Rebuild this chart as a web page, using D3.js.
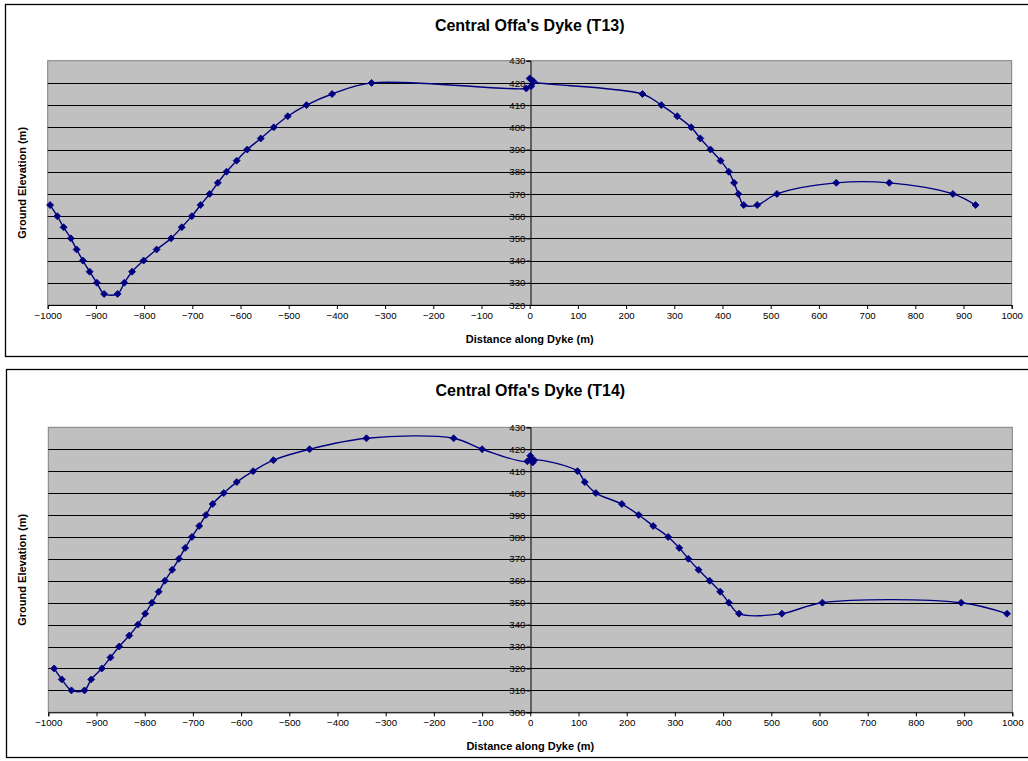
<!DOCTYPE html>
<html>
<head>
<meta charset="utf-8">
<script src="https://cdn.jsdelivr.net/npm/d3@7"></script>
<style>
  html, body { margin: 0; padding: 0; background: #fff; }
  svg { display: block; font-family: "Liberation Sans", Arial, sans-serif; }
</style>
</head>
<body>
<svg id="chart" width="1028" height="761"></svg>
<script>
// ---------- data ----------
const t13Distance = [-995, -980, -967, -952, -940, -927, -913, -898, -883, -855, -841, -825, -801, -774, -744, -722, -701, -683, -664, -647, -629, -608, -586, -558, -531, -502, -463, -410, -328, -7, 3, 0, 6, 8, 234, 273, 306, 335, 354, 375, 396, 413, 424, 433, 444, 472, 513, 636, 746, 878, 925];
const t13Elevation = [365, 360, 355, 350, 345, 340, 335, 330, 325, 325, 330, 335, 340, 345, 350, 355, 360, 365, 370, 375, 380, 385, 390, 395, 400, 405, 410, 415, 420, 417.5, 418.5, 422, 421, 420.5, 415, 410, 405, 400, 395, 390, 385, 380, 375, 370, 365, 365, 370, 375, 375, 370, 365];

const t14Distance = [-988, -972, -952, -925, -911, -889, -871, -853, -832, -814, -799, -785, -771, -758, -743, -729, -716, -702, -687, -673, -659, -636, -609, -575, -533, -458, -340, -159, -100, -6, 0, 3, 5, 8, 98, 113, 136, 190, 225, 255, 286, 309, 328, 349, 372, 394, 412, 433, 522, 606, 894, 989];
const t14Elevation = [320, 315, 310, 310, 315, 320, 325, 330, 335, 340, 345, 350, 355, 360, 365, 370, 375, 380, 385, 390, 395, 400, 405, 410, 415, 420, 425, 425, 420, 414.5, 417, 415.5, 414, 415, 410, 405, 400, 395, 390, 385, 380, 375, 370, 365, 360, 355, 350, 345, 345, 350, 350, 345];

const xTicks = d3.range(-1000, 1001, 100);
const t13YTicks = d3.range(320, 431, 10);
const t14YTicks = d3.range(300, 431, 10);

const titles = ["Central Offa's Dyke (T13)", "Central Offa's Dyke (T14)"];
const xTitle = "Distance along Dyke (m)";
const yTitle = "Ground Elevation (m)";

// ---------- drawing ----------
const svg = d3.select("#chart");
const navy = "#000080";
const FONT = '"Liberation Sans", Arial, sans-serif';

function drawChart(cfg) {
  const g = svg.append("g");
  g.append("rect")
    .attr("x", cfg.frame[0]).attr("y", cfg.frame[1])
    .attr("width", cfg.frame[2]).attr("height", cfg.frame[3])
    .attr("fill", "#fff").attr("stroke", "#000").attr("stroke-width", 1.3);

  const x = d3.scaleLinear().domain([-1000, 1000]).range([cfg.left, cfg.right]);
  const y = d3.scaleLinear().domain(cfg.yDomain).range([cfg.bottom, cfg.top]);

  g.append("rect")
    .attr("x", cfg.left).attr("y", cfg.top)
    .attr("width", cfg.right - cfg.left).attr("height", cfg.bottom - cfg.top)
    .attr("fill", "#c0c0c0").attr("stroke", "#808080").attr("stroke-width", 1);

  g.append("g").selectAll("line")
    .data(cfg.yTicks.filter(v => v > cfg.yDomain[0] && v < cfg.yDomain[1]))
    .join("line")
    .attr("x1", cfg.left).attr("x2", cfg.right)
    .attr("y1", d => Math.round(y(d)) + 0.5).attr("y2", d => Math.round(y(d)) + 0.5)
    .attr("stroke", "#000").attr("stroke-width", 1);

  const xAxis = d3.axisBottom(x).tickValues(xTicks).tickSize(4).tickPadding(3).tickFormat(d3.format("d"));
  const xg = g.append("g").attr("transform", `translate(0,${cfg.bottom})`).call(xAxis);
  xg.select(".domain").attr("stroke", "#000");
  xg.selectAll(".tick line").attr("stroke", "#000");
  xg.selectAll("text").attr("font-size", 9.7).attr("fill", "#000").attr("font-family", FONT);

  const yAxis = d3.axisLeft(y).tickValues(cfg.yTicks).tickSize(4).tickPadding(1).tickFormat(d3.format("d"));
  const yg = g.append("g").attr("transform", `translate(${Math.round(x(0)) + 0.5},0)`).call(yAxis);
  yg.select(".domain").attr("stroke", "#000");
  yg.selectAll(".tick line").attr("stroke", "#000");
  yg.selectAll("text").attr("font-size", 9.7).attr("fill", "#000").attr("font-family", FONT);

  const pts = cfg.dist.map((d, i) => [d, cfg.elev[i]]);
  const line = d3.line().x(d => x(d[0])).y(d => y(d[1])).curve(d3.curveCatmullRom.alpha(0.5));
  g.append("path").datum(pts).attr("d", line)
    .attr("fill", "none").attr("stroke", navy).attr("stroke-width", 1.4);

  const r = 3.5;
  g.append("g").selectAll("path").data(pts).join("path")
    .attr("d", `M0,${-r}L${r},0L0,${r}L${-r},0Z`)
    .attr("transform", d => `translate(${x(d[0])},${y(d[1])})`)
    .attr("fill", navy).attr("stroke", navy).attr("stroke-width", 0.8);

  g.append("text").attr("x", x(0)).attr("y", cfg.titleY)
    .attr("text-anchor", "middle").attr("font-weight", "bold").attr("font-size", 16)
    .text(cfg.title);
  g.append("text").attr("x", x(0)).attr("y", cfg.bottom + 38)
    .attr("text-anchor", "middle").attr("font-weight", "bold").attr("font-size", 11)
    .text(xTitle);
  g.append("text")
    .attr("transform", `translate(${26},${(cfg.top + cfg.bottom) / 2}) rotate(-90)`)
    .attr("text-anchor", "middle").attr("font-weight", "bold").attr("font-size", 11)
    .text(yTitle);
}

drawChart({
  frame: [5.5, 4.5, 1030, 352],
  left: 47.7, right: 1011.7, top: 60.7, bottom: 305,
  yDomain: [320, 430], yTicks: t13YTicks,
  dist: t13Distance, elev: t13Elevation,
  title: titles[0], titleY: 31
});

drawChart({
  frame: [6.5, 369.5, 1030, 388],
  left: 48.3, right: 1012.3, top: 427.3, bottom: 712.3,
  yDomain: [300, 430], yTicks: t14YTicks,
  dist: t14Distance, elev: t14Elevation,
  title: titles[1], titleY: 396
});
</script>
</body>
</html>
